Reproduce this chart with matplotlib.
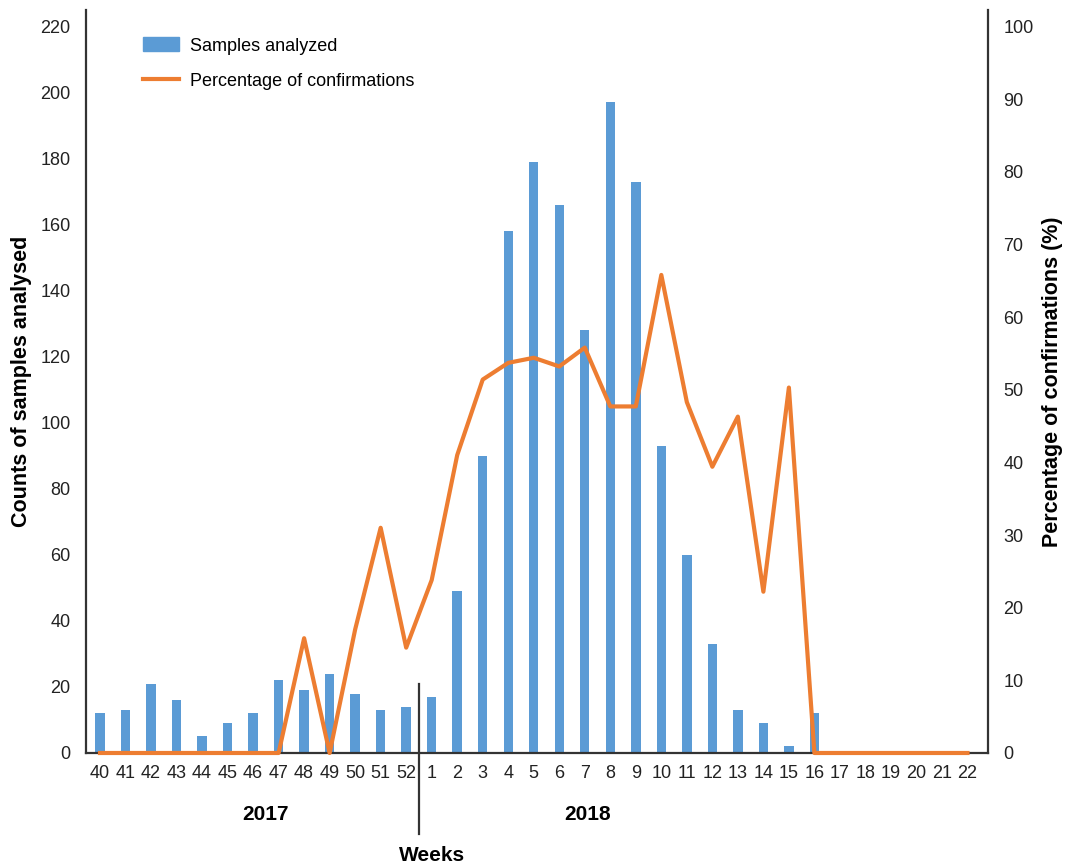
import matplotlib.pyplot as plt
from matplotlib.lines import Line2D
from matplotlib.patches import Patch

# weeks 40-52 of 2017, then 1-22 of 2018
weeks = [str(w) for w in range(40, 53)] + [str(w) for w in range(1, 23)]
samples = [12, 13, 21, 16, 5, 9, 12, 22, 19, 24, 18, 13, 14,
           17, 49, 90, 158, 179, 166, 128, 197, 173, 93, 60, 33, 13, 9, 2, 12,
           0, 0, 0, 0, 0, 0]
pct_confirmed = [0, 0, 0, 0, 0, 0, 0, 0, 15.8, 0, 17, 31, 14.5,
                 23.8, 41, 51.4, 53.7, 54.4, 53.2, 55.8, 47.7, 47.7, 65.8, 48.3, 39.4, 46.3, 22.2, 50.3, 0,
                 0, 0, 0, 0, 0, 0]

blue = '#5b9bd5'
orange = '#ed7d31'

plt.rcParams['font.family'] = ['Liberation Sans', 'DejaVu Sans']
fig = plt.figure(figsize=(10.68, 8.68), dpi=100)
ax = fig.add_axes([0.0805, 0.1325, 0.8445, 0.856])
ax2 = ax.twinx()

x = list(range(len(weeks)))
ax.bar(x, samples, width=0.37, color=blue, zorder=2)
ax2.plot(x, pct_confirmed, color=orange, linewidth=3, clip_on=False, zorder=3)

ax.set_xlim(-0.55, 34.8)
ax.set_ylim(0, 225)
ax2.set_ylim(0, 102.27)
ax.set_yticks(range(0, 221, 20))
ax2.set_yticks(range(0, 101, 10))
ax.set_xticks(x)
ax.set_xticklabels(weeks)

for a in (ax, ax2):
    a.spines['top'].set_visible(False)
    a.tick_params(length=0, labelsize=13, colors='#222222')
ax.tick_params(axis='y', pad=11)
ax.tick_params(axis='x', pad=9)
ax2.tick_params(axis='y', pad=11)
ax.spines['right'].set_visible(False)
ax2.spines['left'].set_visible(False)
ax2.spines['bottom'].set_visible(False)
for s in (ax.spines['left'], ax2.spines['right'], ax.spines['bottom']):
    s.set_linewidth(1.6)
    s.set_color('#333333')

ax.set_ylabel('Counts of samples analysed', fontsize=15.5, fontweight='bold', labelpad=6)
ax2.set_ylabel('Percentage of confirmations (%)', fontsize=15.5, fontweight='bold', labelpad=6)

# year separator and labels
ax.plot([12.5, 12.5], [0.093, -0.109], color='#333333', linewidth=1.6,
        transform=ax.get_xaxis_transform(), clip_on=False)
ax.text(6.5, -0.083, '2017', transform=ax.get_xaxis_transform(), ha='center', va='center',
        fontsize=15, fontweight='bold')
ax.text(19.1, -0.083, '2018', transform=ax.get_xaxis_transform(), ha='center', va='center',
        fontsize=15, fontweight='bold')
ax.text(13.0, -0.138, 'Weeks', transform=ax.get_xaxis_transform(), ha='center', va='center',
        fontsize=15, fontweight='bold')

handles = [Patch(color=blue), Line2D([0], [0], color=orange, linewidth=3)]
ax.legend(handles, ['Samples analyzed', 'Percentage of confirmations'], loc='upper left',
          bbox_to_anchor=(0.045, 0.985), frameon=False, fontsize=13,
          handlelength=2.0, handleheight=0.8, handletextpad=0.6, labelspacing=1.0)

fig.savefig('out.png', dpi=100)
